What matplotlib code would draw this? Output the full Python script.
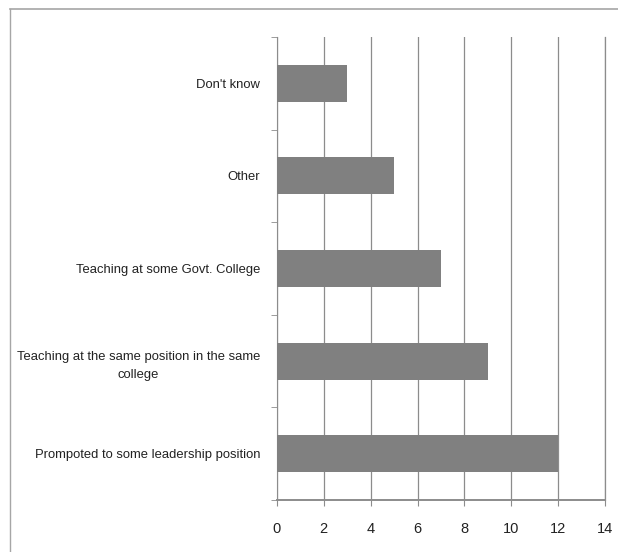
import matplotlib
matplotlib.use("Agg")
import matplotlib.pyplot as plt
from matplotlib.lines import Line2D

plt.rcParams['font.family'] = ['Liberation Sans', 'DejaVu Sans']

categories = [
    "Prompoted to some leadership position",
    "Teaching at the same position in the same\ncollege",
    "Teaching at some Govt. College",
    "Other",
    "Don't know",
]
counts = [12, 9, 7, 5, 3]
xticks = [0, 2, 4, 6, 8, 10, 12, 14]

fig = plt.figure(figsize=(6.18, 5.52), dpi=100)
ax = fig.add_axes([0.448, 0.094, 0.531, 0.839])

ypos = list(range(len(categories)))
ax.barh(ypos, counts, height=0.4, color='#808080', zorder=3)

ax.set_xlim(0, 14)
ax.set_ylim(-0.5, len(categories) - 0.5)
ax.set_xticks(xticks)
ax.set_xticklabels([str(t) for t in xticks], fontsize=10.5, color='#222222')
ax.xaxis.grid(True, color='#8c8c8c', linewidth=0.9, zorder=0)

ax.set_yticks(ypos)
ax.set_yticklabels(categories, fontsize=9.4, color='#222222',
                   ha='right', multialignment='center', linespacing=1.7)
ax.tick_params(axis='y', which='major', length=0, pad=12)
# category boundary ticks
ax.set_yticks([i - 0.5 for i in range(len(categories) + 1)], minor=True)
ax.tick_params(axis='y', which='minor', length=4, color='#8c8c8c', direction='out')
ax.tick_params(axis='x', length=4, color='#8c8c8c', direction='out', pad=12)

ax.spines['top'].set_visible(False)
ax.spines['right'].set_color('#8c8c8c')
ax.spines['right'].set_linewidth(0.9)
ax.spines['left'].set_color('#8c8c8c')
ax.spines['bottom'].set_color('#8c8c8c')
ax.spines['bottom'].set_linewidth(1.4)

# outer frame lines
fig.add_artist(Line2D([10 / 618, 1.0], [1 - 9 / 552, 1 - 9 / 552],
                      color='#a6a6a6', linewidth=1.2))
fig.add_artist(Line2D([10 / 618, 10 / 618], [0.0, 1 - 9 / 552],
                      color='#a6a6a6', linewidth=1.0))

fig.savefig("out.png", dpi=100, facecolor='white')
